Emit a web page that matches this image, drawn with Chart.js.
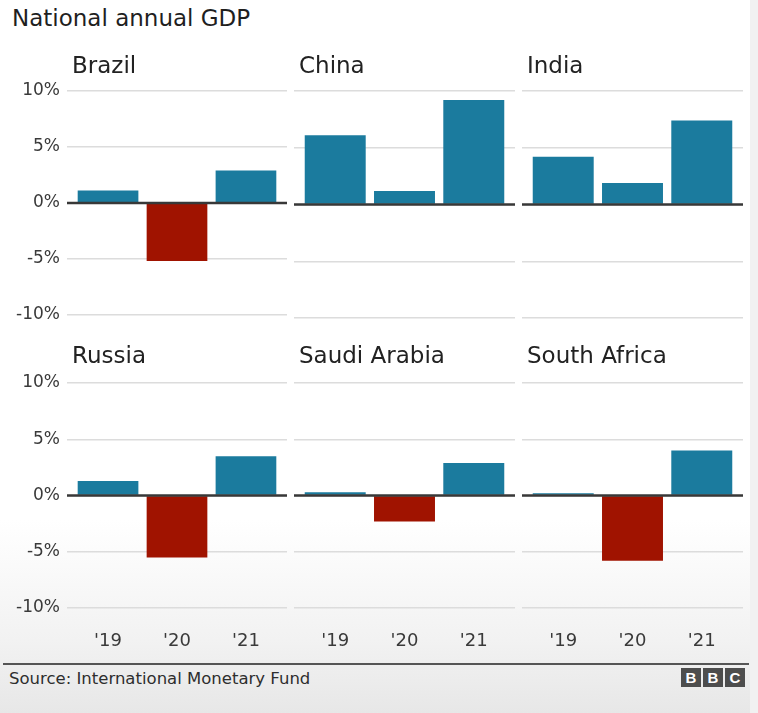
<!DOCTYPE html>
<html>
<head>
<meta charset="utf-8">
<script src="https://cdn.jsdelivr.net/npm/chart.js@4"></script>
<style>
  html, body { margin: 0; padding: 0; }
  body {
    width: 758px; height: 713px; position: relative; overflow: hidden;
    font-family: "DejaVu Sans", sans-serif;
    background: linear-gradient(to bottom, #ffffff 0px, #ffffff 520px, #f2f2f2 640px, #e7e7e7 713px);
  }
  .edge { position: absolute; top: 0; right: 0; width: 8px; height: 713px; background: #f1f1f1; }
  canvas { position: absolute; }
  #title { position: absolute; left: 12px; top: 5px; font-size: 23px; color: #1f1f1f; }
  #rule { position: absolute; left: 3px; top: 663px; width: 746px; height: 2px; background: #555; }
  #source { position: absolute; left: 9px; top: 669px; font-size: 16.5px; color: #2e2e2e; }
  .bbc { position: absolute; top: 668px; width: 20px; height: 19px; background: #4d4d4d; color: #fff;
         font: bold 15px "Liberation Sans", sans-serif; text-align: center; line-height: 19px; }
</style>
</head>
<body>
<div class="edge"></div>
<div id="title">National annual GDP</div>
<canvas id="c0"></canvas>
<canvas id="c1"></canvas>
<canvas id="c2"></canvas>
<canvas id="c3"></canvas>
<canvas id="c4"></canvas>
<canvas id="c5"></canvas>
<div id="rule"></div>
<div id="source">Source: International Monetary Fund</div>
<div class="bbc" style="left:681px">B</div>
<div class="bbc" style="left:703px">B</div>
<div class="bbc" style="left:725px">C</div>
<script>
// GDP growth, % change on previous year
const years = ["'19", "'20", "'21"];
const countries = ["Brazil", "China", "India", "Russia", "Saudi Arabia", "South Africa"];
const brazil = [1.1, -5.2, 2.9];
const china = [6.1, 1.2, 9.2];
const india = [4.2, 1.9, 7.4];
const russia = [1.3, -5.5, 3.5];
const saudiArabia = [0.3, -2.3, 2.9];
const southAfrica = [0.2, -5.8, 4.0];
const yTicks = [-10, -5, 0, 5, 10];

const series = [brazil, china, india, russia, saudiArabia, southAfrica];

const BLUE = "#1b7b9e";
const RED = "#a01300";

Chart.defaults.font.family = '"DejaVu Sans", sans-serif';
Chart.defaults.color = "#3a3a3a";

// panel boxes (plot area) in page pixels
const colLeft = [67, 294, 522];
const colWidth = [220, 221, 221];
const rowTop = [91, 383];
const rowHeight = [227, 225];
const PAD_TOP = 45;
// extra room either side of the three bars, in category units
const X_MARGIN = 0.095;

const zeroLine = {
    id: "zeroLine",
    afterDatasetsDraw(chart) {
        const ctx = chart.ctx;
        const y = chart.scales.y.getPixelForValue(0);
        ctx.save();
        ctx.strokeStyle = "#383838";
        ctx.lineWidth = 2.5;
        ctx.beginPath();
        ctx.moveTo(chart.chartArea.left, y);
        ctx.lineTo(chart.chartArea.right, y);
        ctx.stroke();
        ctx.restore();
    }
};

const panelName = {
    id: "panelName",
    afterDraw(chart, args, opts) {
        const ctx = chart.ctx;
        ctx.save();
        ctx.font = '23px "DejaVu Sans", sans-serif';
        ctx.fillStyle = "#222";
        ctx.textBaseline = "alphabetic";
        ctx.fillText(opts.text, chart.chartArea.left + 5, chart.chartArea.top - opts.gap);
        ctx.restore();
    }
};

for (var i = 0; i < 6; i++) {
    var row = Math.floor(i / 3);
    var col = i % 3;
    var yAxisW = col == 0 ? 67 : 0;
    var xAxisH = row == 1 ? 50 : 14;

    var canvas = document.getElementById("c" + i);
    canvas.width = yAxisW + colWidth[col] + 2;
    canvas.height = PAD_TOP + rowHeight[row] + xAxisH;
    canvas.style.left = (colLeft[col] - yAxisW) + "px";
    canvas.style.top = (rowTop[row] - PAD_TOP) + "px";

    var values = series[i];
    var points = values.map((v, k) => ({ x: k, y: v }));
    var colors = values.map(v => v < 0 ? RED : BLUE);

    new Chart(canvas, {
        type: "bar",
        data: {
            datasets: [{
                data: points,
                backgroundColor: colors,
                barPercentage: 0.88,
                categoryPercentage: 1.0
            }]
        },
        options: {
            responsive: false,
            animation: false,
            layout: { padding: { top: PAD_TOP, right: 2, left: 0, bottom: 0 } },
            plugins: {
                legend: { display: false },
                tooltip: { enabled: false },
                panelName: { text: countries[i], gap: row == 0 ? 18 : 20 }
            },
            scales: {
                x: {
                    type: "linear",
                    offset: false,
                    min: -0.5 - X_MARGIN,
                    max: years.length - 0.5 + X_MARGIN,
                    grid: { display: false, offset: false },
                    border: { display: false },
                    ticks: {
                        display: row == 1,
                        stepSize: 1,
                        includeBounds: false,
                        padding: 15,
                        color: "#3a3a3a",
                        font: { size: 18 },
                        callback: v => years[v] || ""
                    },
                    afterFit: (function (h) { return function (scale) { scale.height = h; }; })(xAxisH)
                },
                y: {
                    min: -10,
                    max: 10,
                    afterBuildTicks: function (scale) {
                        scale.ticks = yTicks.map(v => ({ value: v }));
                    },
                    grid: {
                        color: "#dcdcdc",
                        lineWidth: 1.5,
                        drawTicks: false
                    },
                    border: { display: false },
                    ticks: {
                        display: col == 0,
                        padding: 7,
                        color: "#3a3a3a",
                        font: { size: 17 },
                        callback: v => v + "%"
                    },
                    afterFit: (function (w) { return function (scale) { scale.width = w; }; })(yAxisW)
                }
            }
        },
        plugins: [zeroLine, panelName]
    });
}
</script>
</body>
</html>
